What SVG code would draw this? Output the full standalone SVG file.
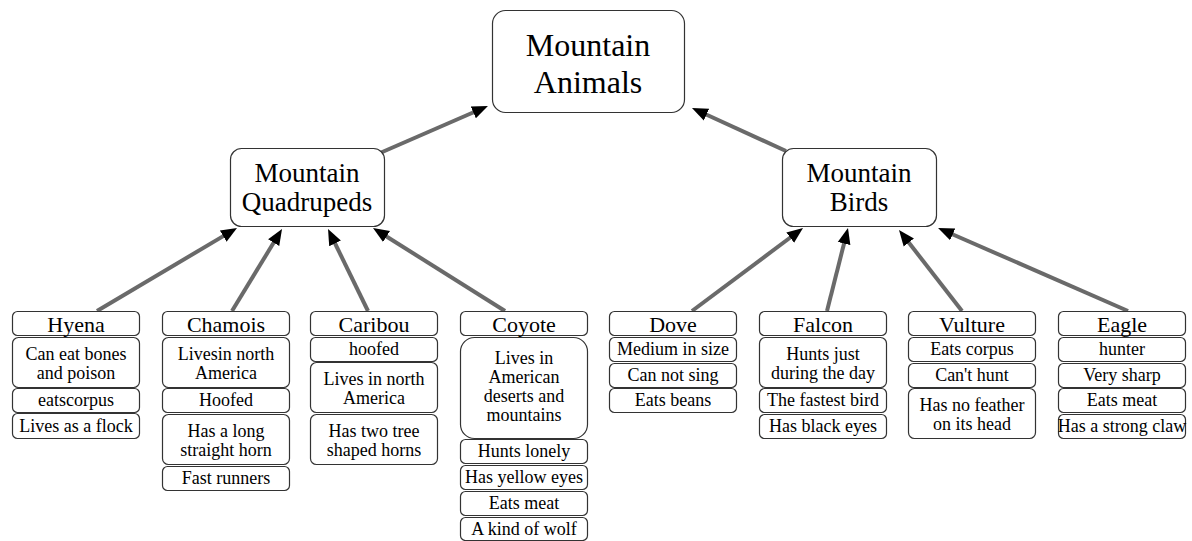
<svg xmlns="http://www.w3.org/2000/svg" width="1192" height="541" viewBox="0 0 1192 541">
<style>
text{font-family:"Liberation Serif","Times New Roman",serif;fill:#000;text-anchor:middle}
.box{fill:#fff;stroke:#333;stroke-width:1.2}
.root{font-size:32px}
.mid{font-size:27px}
.hd{font-size:22px}
.bd{font-size:18px}
.conn line{stroke:#6a6a6a;stroke-width:4;marker-end:url(#ah)}
</style>
<defs>
<marker id="ah" markerUnits="userSpaceOnUse" markerWidth="20" markerHeight="16" refX="1" refY="0" viewBox="0 -8 20 16" orient="auto">
<path d="M0,-6.5 L16,0 L0,6.5 z" fill="#000"/>
</marker>
</defs>
<rect width="1192" height="541" fill="#fff"/>
<g class="conn" id="connectors">
<line x1="380" y1="153" x2="474.2" y2="112"/>
<line x1="786" y1="151" x2="705.6" y2="114.2"/>
<line x1="97" y1="311" x2="224.1" y2="235.6"/>
<line x1="232" y1="311" x2="274.2" y2="241.8"/>
<line x1="368" y1="311" x2="334.6" y2="242.5"/>
<line x1="505" y1="311" x2="385.7" y2="236"/>
<line x1="692" y1="311" x2="791" y2="237"/>
<line x1="827" y1="311" x2="844.3" y2="242.5"/>
<line x1="962" y1="311" x2="908.2" y2="241.8"/>
<line x1="1128" y1="311" x2="951.8" y2="234"/>
</g>
<g id="root">
<rect class="box" x="492.5" y="10.5" width="192" height="102" rx="13"/>
<text class="root" x="588" y="56">Mountain</text>
<text class="root" x="588" y="93">Animals</text>
</g>
<g id="quadrupeds">
<rect class="box" x="230.5" y="148.5" width="154" height="78" rx="11"/>
<text class="mid" x="307" y="182">Mountain</text>
<text class="mid" x="307" y="211">Quadrupeds</text>
</g>
<g id="birds">
<rect class="box" x="782.5" y="148.5" width="154" height="78" rx="11"/>
<text class="mid" x="859" y="182">Mountain</text>
<text class="mid" x="859" y="211">Birds</text>
</g>
<g id="hyena">
<rect class="box" x="12.5" y="311.5" width="127" height="24" rx="5"/>
<text class="hd" x="76" y="332">Hyena</text>
<rect class="box" x="12.5" y="337.5" width="127" height="50" rx="6"/>
<text class="bd" x="76" y="360">Can eat bones</text>
<text class="bd" x="76" y="379">and poison</text>
<rect class="box" x="12.5" y="388.5" width="127" height="24" rx="5"/>
<text class="bd" x="76" y="406">eatscorpus</text>
<rect class="box" x="12.5" y="413.5" width="127" height="25" rx="5"/>
<text class="bd" x="76" y="432">Lives as a flock</text>
</g>
<g id="chamois">
<rect class="box" x="162.5" y="311.5" width="127" height="24" rx="5"/>
<text class="hd" x="226" y="332">Chamois</text>
<rect class="box" x="162.5" y="337.5" width="127" height="50" rx="6"/>
<text class="bd" x="226" y="360">Livesin north</text>
<text class="bd" x="226" y="379">America</text>
<rect class="box" x="162.5" y="388.5" width="127" height="24" rx="5"/>
<text class="bd" x="226" y="406">Hoofed</text>
<rect class="box" x="162.5" y="414.5" width="127" height="50" rx="6"/>
<text class="bd" x="226" y="437">Has a long</text>
<text class="bd" x="226" y="456">straight horn</text>
<rect class="box" x="162.5" y="466.5" width="127" height="24" rx="5"/>
<text class="bd" x="226" y="484">Fast runners</text>
</g>
<g id="caribou">
<rect class="box" x="310.5" y="311.5" width="127" height="24" rx="5"/>
<text class="hd" x="374" y="332">Caribou</text>
<rect class="box" x="310.5" y="337.5" width="127" height="24" rx="5"/>
<text class="bd" x="374" y="355">hoofed</text>
<rect class="box" x="310.5" y="362.5" width="127" height="50" rx="6"/>
<text class="bd" x="374" y="385">Lives in north</text>
<text class="bd" x="374" y="404">America</text>
<rect class="box" x="310.5" y="414.5" width="127" height="50" rx="6"/>
<text class="bd" x="374" y="437">Has two tree</text>
<text class="bd" x="374" y="456">shaped horns</text>
</g>
<g id="coyote">
<rect class="box" x="460.5" y="311.5" width="127" height="24" rx="5"/>
<text class="hd" x="524" y="332">Coyote</text>
<rect class="box" x="460.5" y="337.5" width="127" height="101" rx="14"/>
<text class="bd" x="524" y="364">Lives in</text>
<text class="bd" x="524" y="383">American</text>
<text class="bd" x="524" y="402">deserts and</text>
<text class="bd" x="524" y="421">mountains</text>
<rect class="box" x="460.5" y="439.5" width="127" height="24" rx="5"/>
<text class="bd" x="524" y="457">Hunts lonely</text>
<rect class="box" x="460.5" y="465.5" width="127" height="24" rx="5"/>
<text class="bd" x="524" y="483">Has yellow eyes</text>
<rect class="box" x="460.5" y="491.5" width="127" height="24" rx="5"/>
<text class="bd" x="524" y="509">Eats meat</text>
<rect class="box" x="460.5" y="517.5" width="127" height="23" rx="5"/>
<text class="bd" x="524" y="535">A kind of wolf</text>
</g>
<g id="dove">
<rect class="box" x="609.5" y="311.5" width="127" height="24" rx="5"/>
<text class="hd" x="673" y="332">Dove</text>
<rect class="box" x="609.5" y="337.5" width="127" height="24" rx="5"/>
<text class="bd" x="673" y="355">Medium in size</text>
<rect class="box" x="609.5" y="363.5" width="127" height="24" rx="5"/>
<text class="bd" x="673" y="381">Can not sing</text>
<rect class="box" x="609.5" y="388.5" width="127" height="24" rx="5"/>
<text class="bd" x="673" y="406">Eats beans</text>
</g>
<g id="falcon">
<rect class="box" x="759.5" y="311.5" width="127" height="24" rx="5"/>
<text class="hd" x="823" y="332">Falcon</text>
<rect class="box" x="759.5" y="337.5" width="127" height="50" rx="6"/>
<text class="bd" x="823" y="360">Hunts just</text>
<text class="bd" x="823" y="379">during the day</text>
<rect class="box" x="759.5" y="388.5" width="127" height="24" rx="5"/>
<text class="bd" x="823" y="406">The fastest bird</text>
<rect class="box" x="759.5" y="414.5" width="127" height="24" rx="5"/>
<text class="bd" x="823" y="432">Has black eyes</text>
</g>
<g id="vulture">
<rect class="box" x="908.5" y="311.5" width="127" height="24" rx="5"/>
<text class="hd" x="972" y="332">Vulture</text>
<rect class="box" x="908.5" y="337.5" width="127" height="24" rx="5"/>
<text class="bd" x="972" y="355">Eats corpus</text>
<rect class="box" x="908.5" y="363.5" width="127" height="24" rx="5"/>
<text class="bd" x="972" y="381">Can't hunt</text>
<rect class="box" x="908.5" y="388.5" width="127" height="50" rx="6"/>
<text class="bd" x="972" y="411">Has no feather</text>
<text class="bd" x="972" y="430">on its head</text>
</g>
<g id="eagle">
<rect class="box" x="1058.5" y="311.5" width="127" height="24" rx="5"/>
<text class="hd" x="1122" y="332">Eagle</text>
<rect class="box" x="1058.5" y="337.5" width="127" height="24" rx="5"/>
<text class="bd" x="1122" y="355">hunter</text>
<rect class="box" x="1058.5" y="363.5" width="127" height="24" rx="5"/>
<text class="bd" x="1122" y="381">Very sharp</text>
<rect class="box" x="1058.5" y="388.5" width="127" height="24" rx="5"/>
<text class="bd" x="1122" y="406">Eats meat</text>
<rect class="box" x="1058.5" y="414.5" width="127" height="24" rx="5"/>
<text class="bd" x="1122" y="432">Has a strong claw</text>
</g>
</svg>
